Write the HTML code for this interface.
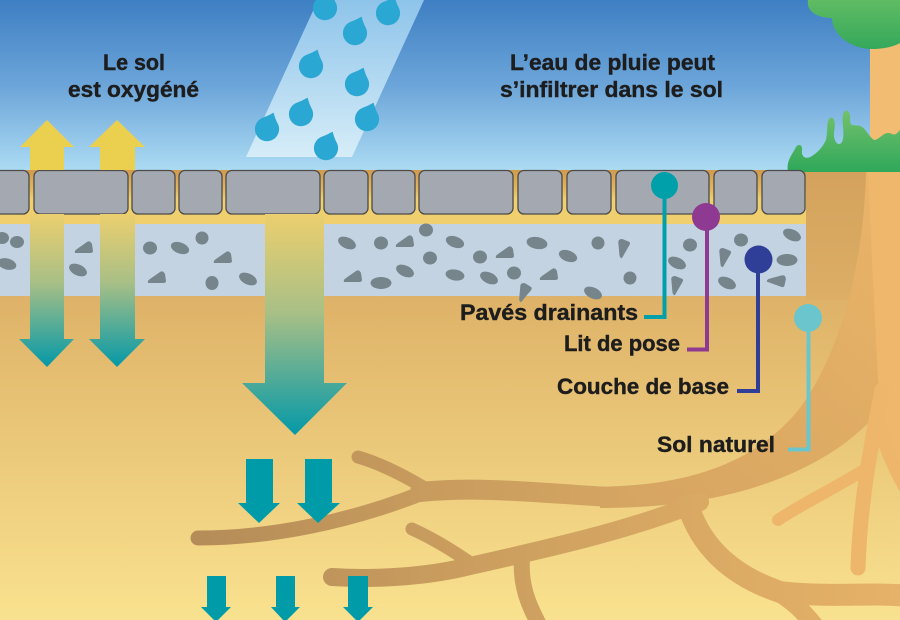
<!DOCTYPE html>
<html><head><meta charset="utf-8">
<style>html,body{margin:0;padding:0;background:#fff}svg{display:block}</style>
</head><body>
<svg width="900" height="620" viewBox="0 0 900 620" xmlns="http://www.w3.org/2000/svg">
<defs>
<linearGradient id="sky" x1="0" y1="0" x2="0" y2="172" gradientUnits="userSpaceOnUse">
<stop offset="0" stop-color="#3e7fc3"/><stop offset="0.5" stop-color="#6ca5d9"/><stop offset="1" stop-color="#addcf3"/>
</linearGradient>
<linearGradient id="soil" x1="0" y1="214" x2="0" y2="620" gradientUnits="userSpaceOnUse">
<stop offset="0" stop-color="#dcae66"/><stop offset="0.2" stop-color="#deb268"/><stop offset="1" stop-color="#f9e28f"/>
</linearGradient>
<linearGradient id="gap" x1="0" y1="170" x2="0" y2="214" gradientUnits="userSpaceOnUse">
<stop offset="0" stop-color="#d09a4e"/><stop offset="0.45" stop-color="#e2b85e"/><stop offset="0.65" stop-color="#efcf6e"/><stop offset="1" stop-color="#efcf6e"/>
</linearGradient>
<linearGradient id="rain" x1="0" y1="0" x2="0" y2="157" gradientUnits="userSpaceOnUse">
<stop offset="0" stop-color="#8ec4ea"/><stop offset="1" stop-color="#d6edf8"/>
</linearGradient>
<linearGradient id="dsm" x1="0" y1="214" x2="0" y2="367" gradientUnits="userSpaceOnUse">
<stop offset="0" stop-color="#eccf6e"/><stop offset="0.45" stop-color="#a8bf86"/><stop offset="1" stop-color="#0499a8"/>
</linearGradient>
<linearGradient id="dbig" x1="0" y1="214" x2="0" y2="435" gradientUnits="userSpaceOnUse">
<stop offset="0" stop-color="#eccf6e"/><stop offset="0.45" stop-color="#a8bf86"/><stop offset="1" stop-color="#0499a8"/>
</linearGradient>
<linearGradient id="dirt" x1="0" y1="172" x2="0" y2="300" gradientUnits="userSpaceOnUse">
<stop offset="0" stop-color="#d4a25c"/><stop offset="1" stop-color="#dcae66"/>
</linearGradient>
<linearGradient id="bigroot" x1="880" y1="200" x2="620" y2="500" gradientUnits="userSpaceOnUse">
<stop offset="0" stop-color="#e9b368"/><stop offset="1" stop-color="#d6a561"/>
</linearGradient>
<linearGradient id="rootg" x1="190" y1="0" x2="900" y2="0" gradientUnits="userSpaceOnUse">
<stop offset="0" stop-color="#b48c58"/><stop offset="0.35" stop-color="#c99c5e"/><stop offset="0.7" stop-color="#d9a963"/><stop offset="1" stop-color="#e6b168"/>
</linearGradient>
<linearGradient id="canopy" x1="0" y1="0" x2="0" y2="50" gradientUnits="userSpaceOnUse">
<stop offset="0" stop-color="#60bc64"/><stop offset="1" stop-color="#33a85a"/>
</linearGradient>
<linearGradient id="bush" x1="0" y1="110" x2="0" y2="172" gradientUnits="userSpaceOnUse">
<stop offset="0" stop-color="#74c16c"/><stop offset="1" stop-color="#2fa85a"/>
</linearGradient>
<path id="drop" transform="scale(1.1)" d="M 6 -14 Q 7.5 -8 10.26 -2.96 A 11 11 0 1 1 -4.7 -8.94 Q 1 -11 6 -14 Z" fill="#2ba7d3"/>
</defs>

<!-- soil background -->
<rect x="0" y="170" width="900" height="450" fill="url(#soil)"/>
<!-- sky -->
<rect x="0" y="0" width="900" height="172" fill="url(#sky)"/>
<!-- gap below pavers -->
<rect x="0" y="170" width="806" height="54" fill="url(#gap)"/>
<!-- gravel -->
<rect x="0" y="224" width="806" height="72" fill="#c3d3e2"/>
<g fill="#76848c">
<ellipse cx="2" cy="238" rx="7" ry="6"/>
<ellipse cx="17" cy="242" rx="7" ry="6"/>
<ellipse cx="7" cy="264" rx="9.5" ry="5.5" transform="rotate(15 7 264)"/>
<path transform="translate(84 248)" d="M -9 5 Q -10 3 -7 1 L 3 -6 Q 6 -8 8 -4 L 9 3 Q 9 5 6 5 Z"/>
<ellipse cx="78" cy="270" rx="9.5" ry="5.5" transform="rotate(25 78 270)"/>
<ellipse cx="150" cy="248" rx="7" ry="6.5"/>
<ellipse cx="180" cy="248" rx="9.5" ry="5.5" transform="rotate(20 180 248)"/>
<ellipse cx="202" cy="238" rx="6.5" ry="6.5"/>
<path transform="translate(223 258)" d="M -9 5 Q -10 3 -7 1 L 3 -6 Q 6 -8 8 -4 L 9 3 Q 9 5 6 5 Z"/>
<path transform="translate(157 278)" d="M -9 5 Q -10 3 -7 1 L 3 -6 Q 6 -8 8 -4 L 9 3 Q 9 5 6 5 Z"/>
<ellipse cx="212" cy="283" rx="6.5" ry="7"/>
<ellipse cx="248" cy="279" rx="9.5" ry="5.5" transform="rotate(25 248 279)"/>
<ellipse cx="347" cy="243" rx="9.5" ry="5.5" transform="rotate(25 347 243)"/>
<ellipse cx="381" cy="243" rx="7" ry="6.5"/>
<path transform="translate(405 242)" d="M -9 5 Q -10 3 -7 1 L 3 -6 Q 6 -8 8 -4 L 9 3 Q 9 5 6 5 Z"/>
<ellipse cx="426" cy="230" rx="7" ry="6.5"/>
<ellipse cx="430" cy="258" rx="7" ry="6.5"/>
<path transform="translate(353 277)" d="M -9 5 Q -10 3 -7 1 L 3 -6 Q 6 -8 8 -4 L 9 3 Q 9 5 6 5 Z"/>
<ellipse cx="381" cy="283" rx="10.5" ry="6"/>
<ellipse cx="405" cy="271" rx="9.5" ry="5.5" transform="rotate(25 405 271)"/>
<ellipse cx="455" cy="242" rx="9.5" ry="5.5" transform="rotate(20 455 242)"/>
<ellipse cx="480" cy="257" rx="7" ry="6.5"/>
<path transform="translate(505 253)" d="M -9 5 Q -10 3 -7 1 L 3 -6 Q 6 -8 8 -4 L 9 3 Q 9 5 6 5 Z"/>
<ellipse cx="537" cy="243" rx="10.5" ry="6" transform="rotate(10 537 243)"/>
<ellipse cx="568" cy="256" rx="9.5" ry="5.5" transform="rotate(20 568 256)"/>
<ellipse cx="598" cy="243" rx="6.5" ry="6.5"/>
<path transform="translate(622 248) rotate(-60)" d="M -9 5 Q -10 3 -7 1 L 3 -6 Q 6 -8 8 -4 L 9 3 Q 9 5 6 5 Z"/>
<ellipse cx="455" cy="275" rx="9.5" ry="5.5" transform="rotate(10 455 275)"/>
<ellipse cx="489" cy="278" rx="9.5" ry="5.5" transform="rotate(25 489 278)"/>
<ellipse cx="514" cy="273" rx="7" ry="6.5"/>
<path transform="translate(549 275)" d="M -9 5 Q -10 3 -7 1 L 3 -6 Q 6 -8 8 -4 L 9 3 Q 9 5 6 5 Z"/>
<path transform="translate(523 292) rotate(-50)" d="M -9 5 Q -10 3 -7 1 L 3 -6 Q 6 -8 8 -4 L 9 3 Q 9 5 6 5 Z"/>
<ellipse cx="593" cy="293" rx="9.5" ry="5.5" transform="rotate(25 593 293)"/>
<ellipse cx="630" cy="278" rx="6.5" ry="6.5"/>
<ellipse cx="677" cy="263" rx="9.5" ry="5.5" transform="rotate(25 677 263)"/>
<ellipse cx="690" cy="245" rx="7" ry="6.5"/>
<path transform="translate(675 285) rotate(-60)" d="M -9 5 Q -10 3 -7 1 L 3 -6 Q 6 -8 8 -4 L 9 3 Q 9 5 6 5 Z"/>
<path transform="translate(723 257) rotate(-60)" d="M -9 5 Q -10 3 -7 1 L 3 -6 Q 6 -8 8 -4 L 9 3 Q 9 5 6 5 Z"/>
<ellipse cx="741" cy="240" rx="7" ry="6.5"/>
<ellipse cx="727" cy="283" rx="9.5" ry="5.5" transform="rotate(25 727 283)"/>
<ellipse cx="792" cy="235" rx="9.5" ry="5.5" transform="rotate(25 792 235)"/>
<ellipse cx="787" cy="260" rx="10.5" ry="6"/>
<path transform="translate(777 280) rotate(20)" d="M -9 5 Q -10 3 -7 1 L 3 -6 Q 6 -8 8 -4 L 9 3 Q 9 5 6 5 Z"/>
</g>

<!-- right dirt -->
<rect x="806" y="172" width="64" height="128" fill="url(#dirt)"/>

<!-- big root -->
<path d="M 866 172 C 864 260 842 350 800 408 C 760 458 700 482 620 486 L 600 487 L 600 508 C 690 508 760 492 815 462 C 860 438 888 405 900 380 L 900 172 Z" fill="url(#bigroot)"/>
<!-- trunk underground -->
<path d="M 868 172 L 900 172 L 900 470 L 885 440 L 878 380 L 872 260 Z" fill="#eeb76b"/>

<!-- roots -->
<g fill="none" stroke="url(#rootg)" stroke-linecap="round">
<path d="M 198 538 C 270 538 350 522 425 492" stroke-width="15"/>
<path d="M 420 492 C 480 486 540 493 610 497" stroke-width="20"/>
<path d="M 428 490 C 405 476 382 464 358 457" stroke-width="13"/>
<path d="M 332 577 C 380 580 430 576 470 566 C 550 548 630 530 700 502" stroke-width="18"/>
<path d="M 472 564 C 452 550 432 538 412 529" stroke-width="13"/>
<path d="M 522 558 C 520 585 528 605 542 630" stroke-width="16"/>
<path d="M 688 505 C 700 545 730 575 780 592 C 830 598 870 592 910 596" stroke-width="22"/>
<path d="M 770 588 C 790 598 805 612 818 630" stroke-width="18"/>
</g>
<g fill="none" stroke="#edb66b" stroke-linecap="round">
<path d="M 882 390 C 872 440 860 500 858 568" stroke-width="15"/>
<path d="M 864 470 C 835 488 800 505 778 520" stroke-width="12"/>
<path d="M 878 420 C 886 450 895 470 910 495" stroke-width="14"/>
</g>

<!-- tree -->
<rect x="870" y="30" width="30" height="142" fill="#f2bc72"/>
<path d="M 808 0 C 806 12 818 18 832 18 C 832 34 850 49 872 49 C 885 49 895 46 900 43 L 900 0 Z" fill="url(#canopy)"/>
<path d="M 788 172 C 786 162 791 156 795 149 C 797 143 803 144 802 150 C 801 157 806 160 812 156 C 818 152 822 148 826 140 C 828 130 826 122 830 118 C 834 116 836 122 834 132 C 833 140 838 148 842 142 C 846 134 840 118 844 112 C 848 108 851 114 850 120 C 850 128 856 124 860 126 C 866 128 868 136 874 140 C 880 140 884 130 892 134 C 896 136 898 132 900 130 L 900 172 Z" fill="url(#bush)"/>

<!-- rain -->
<polygon points="318,0 424,0 352,157 246,157" fill="url(#rain)"/>
<use href="#drop" x="325" y="7"/>
<use href="#drop" x="388" y="12"/>
<use href="#drop" x="355" y="32"/>
<use href="#drop" x="311" y="65"/>
<use href="#drop" x="357" y="83"/>
<use href="#drop" x="301" y="113"/>
<use href="#drop" x="267" y="128"/>
<use href="#drop" x="367" y="118"/>
<use href="#drop" x="326" y="147"/>

<!-- pavers -->
<g fill="#a4a8b1" stroke="#4b4b4b" stroke-width="1.3">
<rect x="-8" y="170.5" width="37" height="43.5" rx="6"/>
<rect x="34" y="170.5" width="94" height="43.5" rx="6"/>
<rect x="132" y="170.5" width="43" height="43.5" rx="6"/>
<rect x="179" y="170.5" width="43" height="43.5" rx="6"/>
<rect x="226" y="170.5" width="94" height="43.5" rx="6"/>
<rect x="324" y="170.5" width="44" height="43.5" rx="6"/>
<rect x="372" y="170.5" width="43" height="43.5" rx="6"/>
<rect x="419" y="170.5" width="94" height="43.5" rx="6"/>
<rect x="518" y="170.5" width="44" height="43.5" rx="6"/>
<rect x="567" y="170.5" width="44" height="43.5" rx="6"/>
<rect x="616" y="170.5" width="93" height="43.5" rx="6"/>
<rect x="714" y="170.5" width="43" height="43.5" rx="6"/>
<rect x="762" y="170.5" width="43" height="43.5" rx="6"/>
</g>

<!-- up arrows -->
<g fill="#ebcf4f">
<polygon points="20,147 47,120 74,147 64,147 64,170 30,170 30,147"/>
<polygon points="89,147 117,120 145,147 135,147 135,170 100,170 100,147"/>
</g>
<!-- down gradient arrows -->
<polygon points="30,214 64,214 64,339 74,339 47,367 19,339 30,339" fill="url(#dsm)"/>
<polygon points="100,214 135,214 135,339 145,339 117,367 89,339 100,339" fill="url(#dsm)"/>
<polygon points="265,214 324,214 324,383 347,383 295,435 242,383 265,383" fill="url(#dbig)"/>
<!-- teal arrows -->
<g fill="#009ba8">
<polygon points="246,459 273,459 273,503 280,503 259,523 238,503 246,503"/>
<polygon points="305,459 332,459 332,503 340,503 318,523 297,503 305,503"/>
<polygon points="207,576 226,576 226,607 231,607 216,622 201,607 207,607"/>
<polygon points="276,576 295,576 295,607 300,607 285,622 271,607 276,607"/>
<polygon points="348,576 368,576 368,607 373,607 358,622 343,607 348,607"/>
</g>

<!-- connectors -->
<g fill="none" stroke-width="4" stroke-linejoin="miter">
<polyline points="664.5,186 664.5,317 644,317" stroke="#00a0aa"/>
<polyline points="707,217 707,349.5 687,349.5" stroke="#8e3a92"/>
<polyline points="758,260 758,391 737,391" stroke="#2f3f98"/>
<polyline points="808.5,318 808.5,449.5 788,449.5" stroke="#6ac6cc"/>
</g>
<circle cx="664.5" cy="185.5" r="13.5" fill="#00a0aa"/>
<circle cx="706" cy="217" r="14" fill="#8e3a92"/>
<circle cx="758.5" cy="259.5" r="14" fill="#2f3f98"/>
<circle cx="808" cy="318" r="14" fill="#6ac6cc"/>

<!-- text -->
<g font-family="'Liberation Sans', Arial, sans-serif" font-weight="bold" font-size="22" fill="#1d1d1d" stroke="#1d1d1d" stroke-width="0.4">
<text x="103" y="70" textLength="62" lengthAdjust="spacingAndGlyphs">Le sol</text>
<text x="68" y="97" textLength="131" lengthAdjust="spacingAndGlyphs">est oxygéné</text>
<text x="510" y="70" textLength="205" lengthAdjust="spacingAndGlyphs">L’eau de pluie peut</text>
<text x="500" y="97" textLength="223" lengthAdjust="spacingAndGlyphs">s’infiltrer dans le sol</text>
<text x="460" y="320" textLength="178" lengthAdjust="spacingAndGlyphs">Pavés drainants</text>
<text x="564" y="351" textLength="116" lengthAdjust="spacingAndGlyphs">Lit de pose</text>
<text x="557" y="394" textLength="172" lengthAdjust="spacingAndGlyphs">Couche de base</text>
<text x="657" y="452" textLength="118" lengthAdjust="spacingAndGlyphs">Sol naturel</text>
</g>
</svg>
</body></html>
